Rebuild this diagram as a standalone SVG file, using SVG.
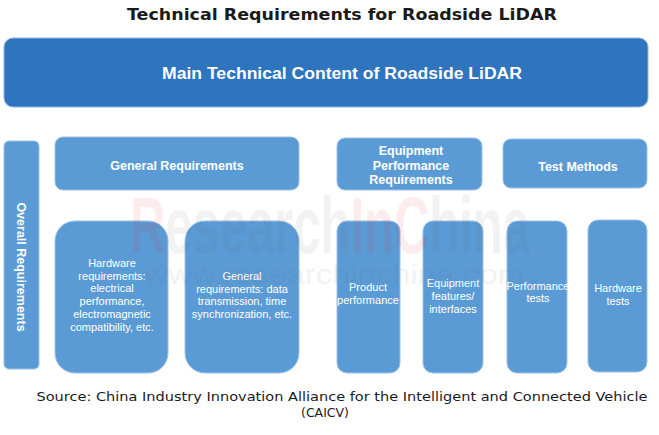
<svg xmlns="http://www.w3.org/2000/svg" width="659" height="435" viewBox="0 0 659 435">
<style>
.box{fill:#5b9bd5;stroke:#9cc2e8;stroke-width:1}
.main{fill:#2e74bf;stroke:#8fb6e0;stroke-width:1}
.hd{font-family:"Liberation Sans",Arial,sans-serif;font-weight:bold;font-size:12.5px;fill:#fff;text-anchor:middle}
.tx{font-family:"Liberation Sans",Arial,sans-serif;font-size:11px;fill:#fff;text-anchor:middle}
</style>
<rect width="659" height="435" fill="#fff"/>
<text x="342" y="20" font-family="DejaVu Sans,Verdana,sans-serif" font-weight="bold" font-size="16" fill="#1a1a1a" text-anchor="middle" textLength="430" lengthAdjust="spacingAndGlyphs">Technical Requirements for Roadside LiDAR</text>
<g id="main">
<rect class="main" x="4" y="38" width="644" height="69" rx="9"/>
<text x="342" y="79" font-family="Liberation Sans,Arial,sans-serif" font-weight="bold" font-size="16" fill="#fff" text-anchor="middle" textLength="360" lengthAdjust="spacingAndGlyphs">Main Technical Content of Roadside LiDAR</text>
</g>
<g id="connectors"></g>
<g id="overall">
<rect class="box" x="4" y="141" width="35" height="228" rx="5"/>
<text class="hd" transform="translate(17,267) rotate(90)" x="0" y="0">Overall Requirements</text>
</g>
<g id="general">
<rect class="box" x="55" y="137" width="244" height="53" rx="8"/>
<text class="hd" x="177" y="170">General Requirements</text>
</g>
<g id="hardware-req">
<rect class="box" x="55" y="221" width="113" height="152" rx="20"/>
<text class="tx" x="112" y="267">Hardware</text>
<text class="tx" x="112" y="280">requirements:</text>
<text class="tx" x="112" y="292">electrical</text>
<text class="tx" x="112" y="305">performance,</text>
<text class="tx" x="112" y="318">electromagnetic</text>
<text class="tx" x="112" y="331">compatibility, etc.</text>
</g>
<g id="general-req">
<rect class="box" x="185" y="221" width="114" height="152" rx="20"/>
<text class="tx" x="242" y="280">General</text>
<text class="tx" x="242" y="293">requirements: data</text>
<text class="tx" x="242" y="305">transmission, time</text>
<text class="tx" x="242" y="318">synchronization,  etc.</text>
</g>
<g id="equipment">
<rect class="box" x="337" y="138" width="145" height="52" rx="8"/>
<text class="hd" x="411" y="155">Equipment</text>
<text class="hd" x="411" y="170">Performance</text>
<text class="hd" x="411" y="184">Requirements</text>
</g>
<g id="test-methods">
<rect class="box" x="503" y="139" width="144" height="49" rx="8"/>
<text class="hd" x="578" y="171">Test Methods</text>
</g>
<g id="product-performance">
<rect class="box" x="337" y="221" width="63" height="152" rx="10"/>
<text class="tx" x="368" y="291">Product</text>
<text class="tx" x="368" y="304">performance</text>
</g>
<g id="equipment-features">
<rect class="box" x="423" y="221" width="60" height="152" rx="10"/>
<text class="tx" x="453" y="287">Equipment</text>
<text class="tx" x="453" y="300">features/</text>
<text class="tx" x="453" y="313">interfaces</text>
</g>
<g id="performance-tests">
<rect class="box" x="507" y="221" width="60" height="152" rx="10"/>
<text class="tx" x="538" y="290">Performance</text>
<text class="tx" x="538" y="302">tests</text>
</g>
<g id="hardware-tests">
<rect class="box" x="588" y="220" width="59" height="152" rx="10"/>
<text class="tx" x="618" y="292">Hardware</text>
<text class="tx" x="618" y="305">tests</text>
</g>
<g id="watermark" opacity="0.07" font-family="Liberation Sans,Arial,sans-serif" font-weight="bold">
<text x="130" y="253" font-size="80" fill="#555" textLength="400" lengthAdjust="spacingAndGlyphs"><tspan fill="#e00">R</tspan>esearch<tspan fill="#e00">InC</tspan>hina</text>
<text x="145" y="284" font-size="28" font-weight="normal" fill="#555" textLength="380" lengthAdjust="spacingAndGlyphs">www.researchinchina.com</text>
</g>
<text x="342" y="401" font-family="DejaVu Sans,Verdana,sans-serif" font-size="12.5" fill="#1a1a1a" text-anchor="middle" textLength="611" lengthAdjust="spacingAndGlyphs">Source: China Industry Innovation Alliance for the Intelligent and Connected Vehicle</text>
<text x="325" y="417" font-family="DejaVu Sans,Verdana,sans-serif" font-size="12.5" fill="#1a1a1a" text-anchor="middle">(CAICV)</text>
</svg>
